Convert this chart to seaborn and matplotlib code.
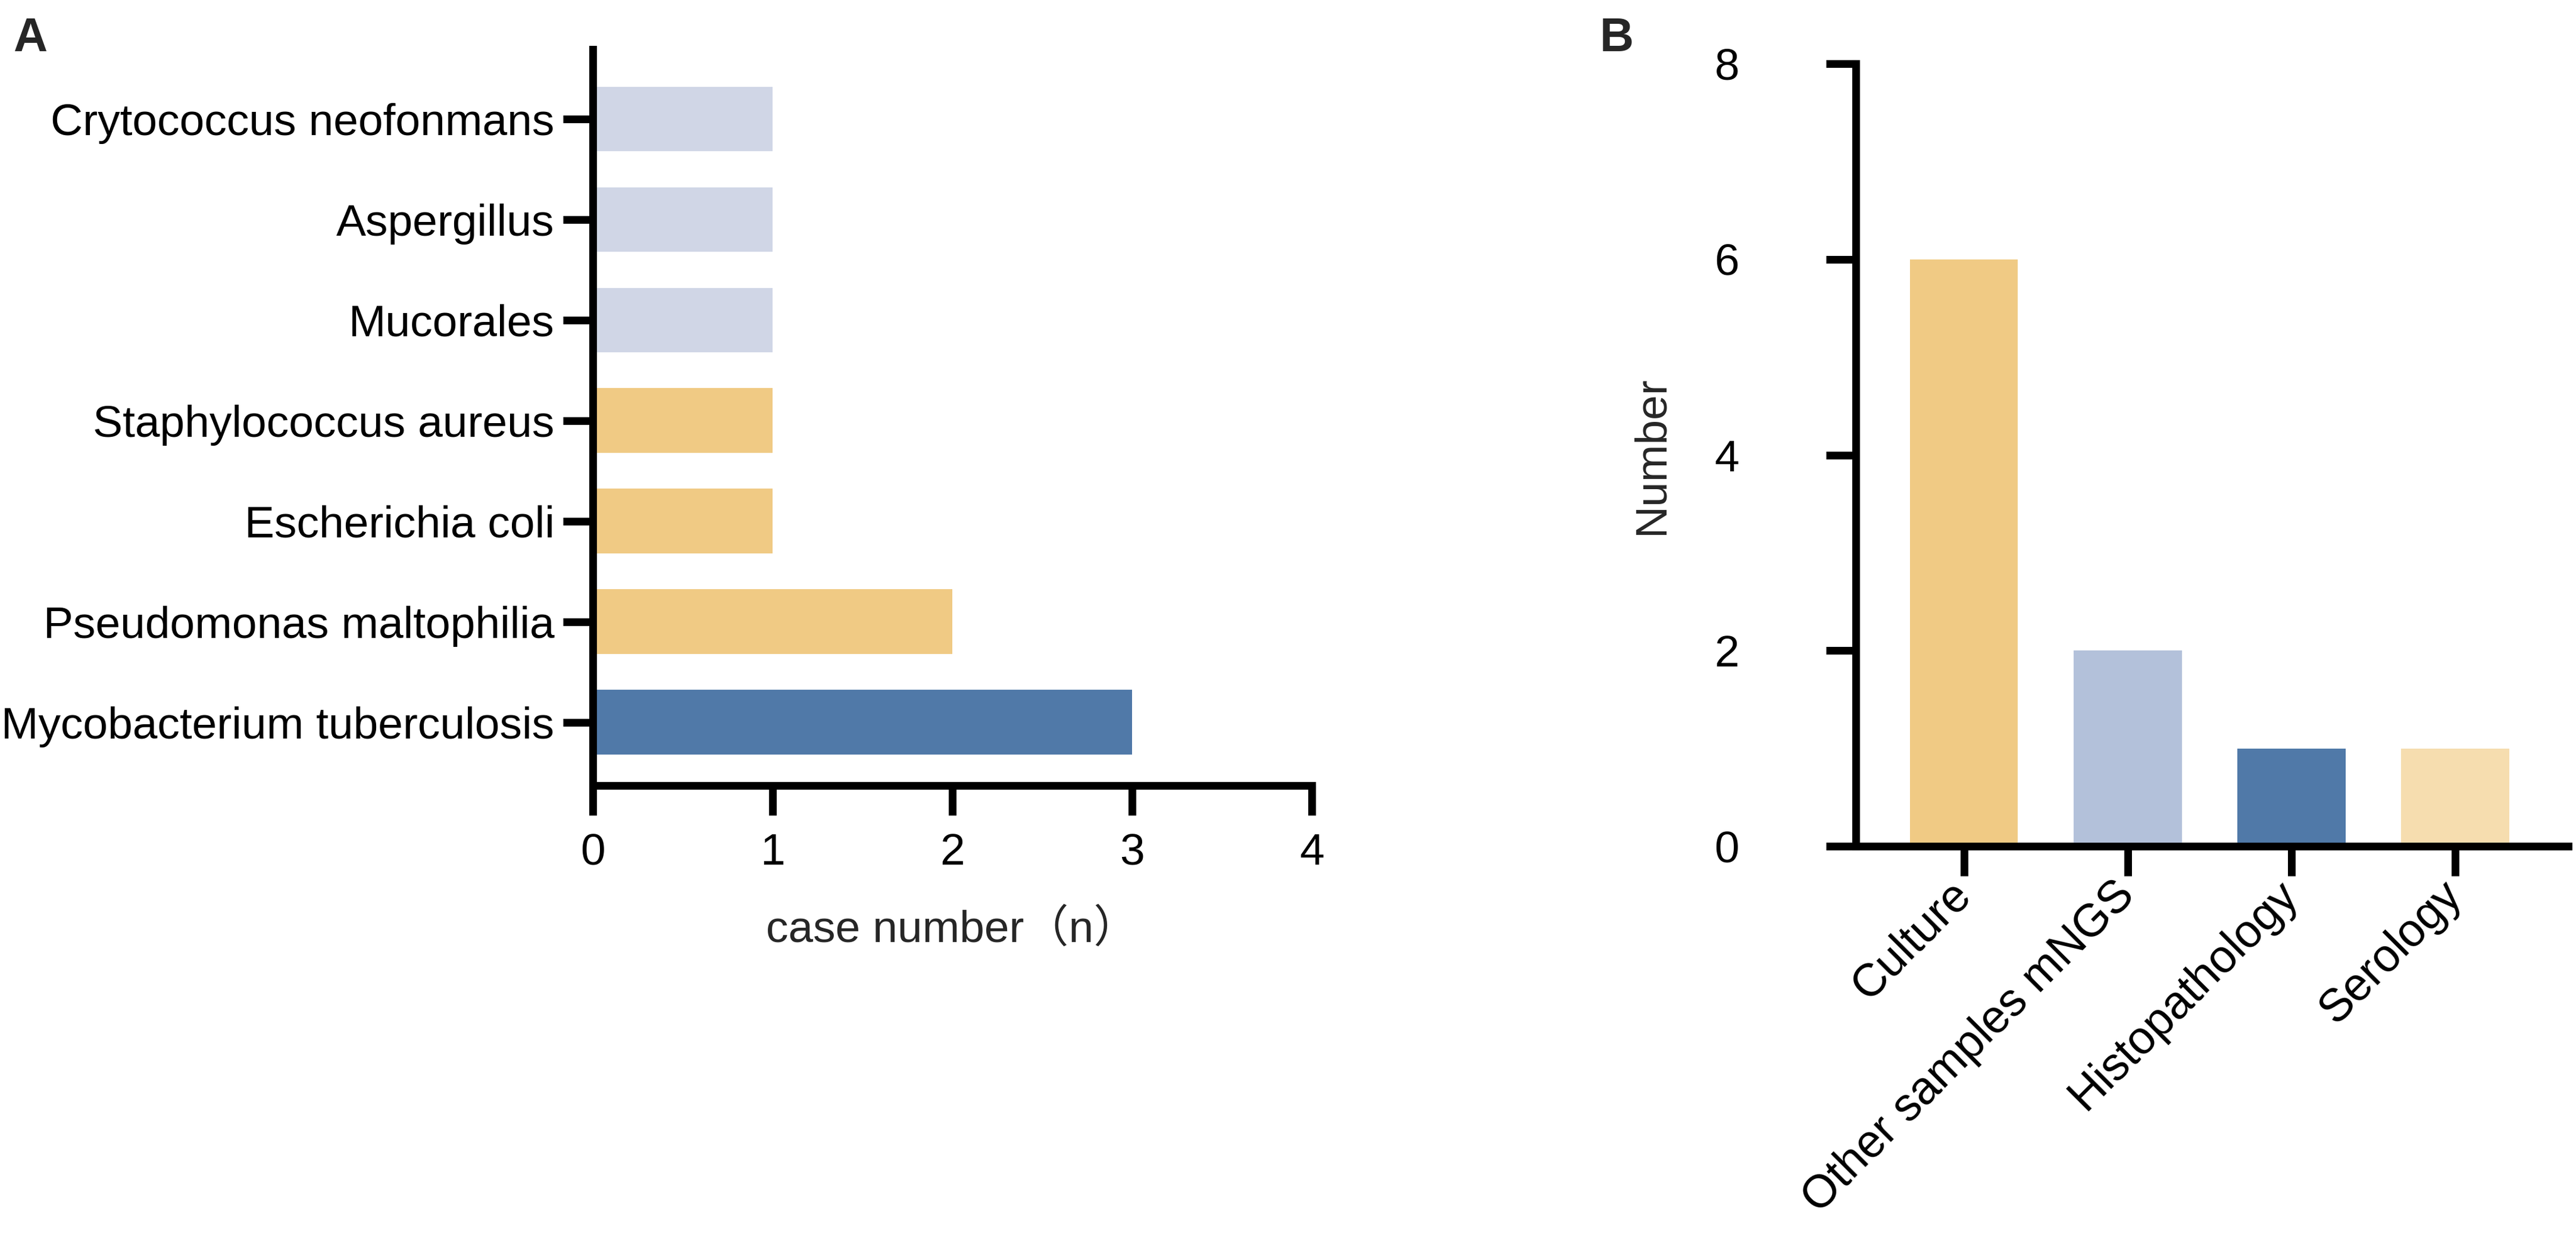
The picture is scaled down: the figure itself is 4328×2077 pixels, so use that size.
import matplotlib
matplotlib.use("Agg")
import matplotlib.pyplot as plt
import seaborn as sns
import pandas as pd

# ---- data ----
pathogens = ["Crytococcus neofonmans", "Aspergillus", "Mucorales",
             "Staphylococcus aureus", "Escherichia coli",
             "Pseudomonas maltophilia", "Mycobacterium tuberculosis"]
case_numbers = [1, 1, 1, 1, 1, 2, 3]
pathogen_colors = ["#D0D6E6", "#D0D6E6", "#D0D6E6",
                   "#F0CA84", "#F0CA84", "#F0CA84", "#5079A8"]

methods = ["Culture", "Other samples mNGS", "Histopathology", "Serology"]
method_counts = [6, 2, 1, 1]
method_colors = ["#F0CA84", "#B3C1DA", "#5079A8", "#F6DDAF"]

a_ticks = [0, 1, 2, 3, 4]
b_ticks = [0, 2, 4, 6, 8]

# ---- style ----
sns.set_style("ticks")
plt.rcParams["font.family"] = ["Liberation Sans", "Noto Sans CJK SC", "DejaVu Sans"]
LW = 3.1
plt.rcParams.update({
    "axes.linewidth": LW,
    "xtick.major.width": LW,
    "ytick.major.width": LW,
    "xtick.major.size": 12,
    "ytick.major.size": 12,
    "xtick.color": "black",
    "ytick.color": "black",
    "axes.edgecolor": "black",
    "font.size": 18,
})

W, H = 4328, 2077
DPI = 300
fig = plt.figure(figsize=(W / DPI, H / DPI), dpi=DPI)

# ---- panel A ----
axA = fig.add_axes([996 / W, 1 - 1320 / H, (2204 - 996) / W, (1320 - 83) / H])
dfA = pd.DataFrame({"pathogen": pathogens, "n": case_numbers})
sns.barplot(data=dfA, x="n", y="pathogen", hue="pathogen", orient="h",
            palette=dict(zip(pathogens, pathogen_colors)), legend=False,
            width=0.64, saturation=1, linewidth=0, ax=axA)
axA.set_xlim(0, 4)
axA.set_ylim(6.63, -0.69)
axA.set_xticks(a_ticks)
axA.set_xticklabels([str(t) for t in a_ticks])
axA.tick_params(axis="y", labelsize=18, pad=3.5)
axA.tick_params(axis="x", labelsize=18, pad=7)
axA.set_ylabel("")
axA.set_xlabel("case number（n）", fontsize=18, labelpad=14)
sns.despine(ax=axA)

# ---- panel B ----
axB = fig.add_axes([3118 / W, 1 - 1422 / H, (4315 - 3118) / W, (1422 - 107) / H])
dfB = pd.DataFrame({"method": methods, "count": method_counts})
sns.barplot(data=dfB, x="method", y="count", hue="method",
            palette=dict(zip(methods, method_colors)), legend=False,
            width=0.66, saturation=1, linewidth=0, ax=axB)
axB.set_ylim(0, 8)
axB.set_xlim(-0.66, 3.69)
axB.set_yticks(b_ticks)
axB.set_yticklabels([str(t) for t in b_ticks])
axB.tick_params(axis="y", labelsize=18, pad=35)
axB.tick_params(axis="x", labelsize=18.5, pad=5)
for lab in axB.get_xticklabels():
    lab.set_rotation(45)
    lab.set_ha("right")
    lab.set_va("center")
    lab.set_rotation_mode("anchor")
axB.set_xlabel("")
axB.set_ylabel("Number", fontsize=18, labelpad=17)
sns.despine(ax=axB)

# ---- panel letters ----
fig.text(22 / W, 1 - 28 / H, "A", fontsize=19, fontweight="bold",
         family=["Liberation Sans Narrow", "Liberation Sans"], ha="left", va="top")
fig.text(2688 / W, 1 - 28 / H, "B", fontsize=19, fontweight="bold",
         family=["Liberation Sans Narrow", "Liberation Sans"], ha="left", va="top")

fig.savefig("out.png", dpi=DPI)
